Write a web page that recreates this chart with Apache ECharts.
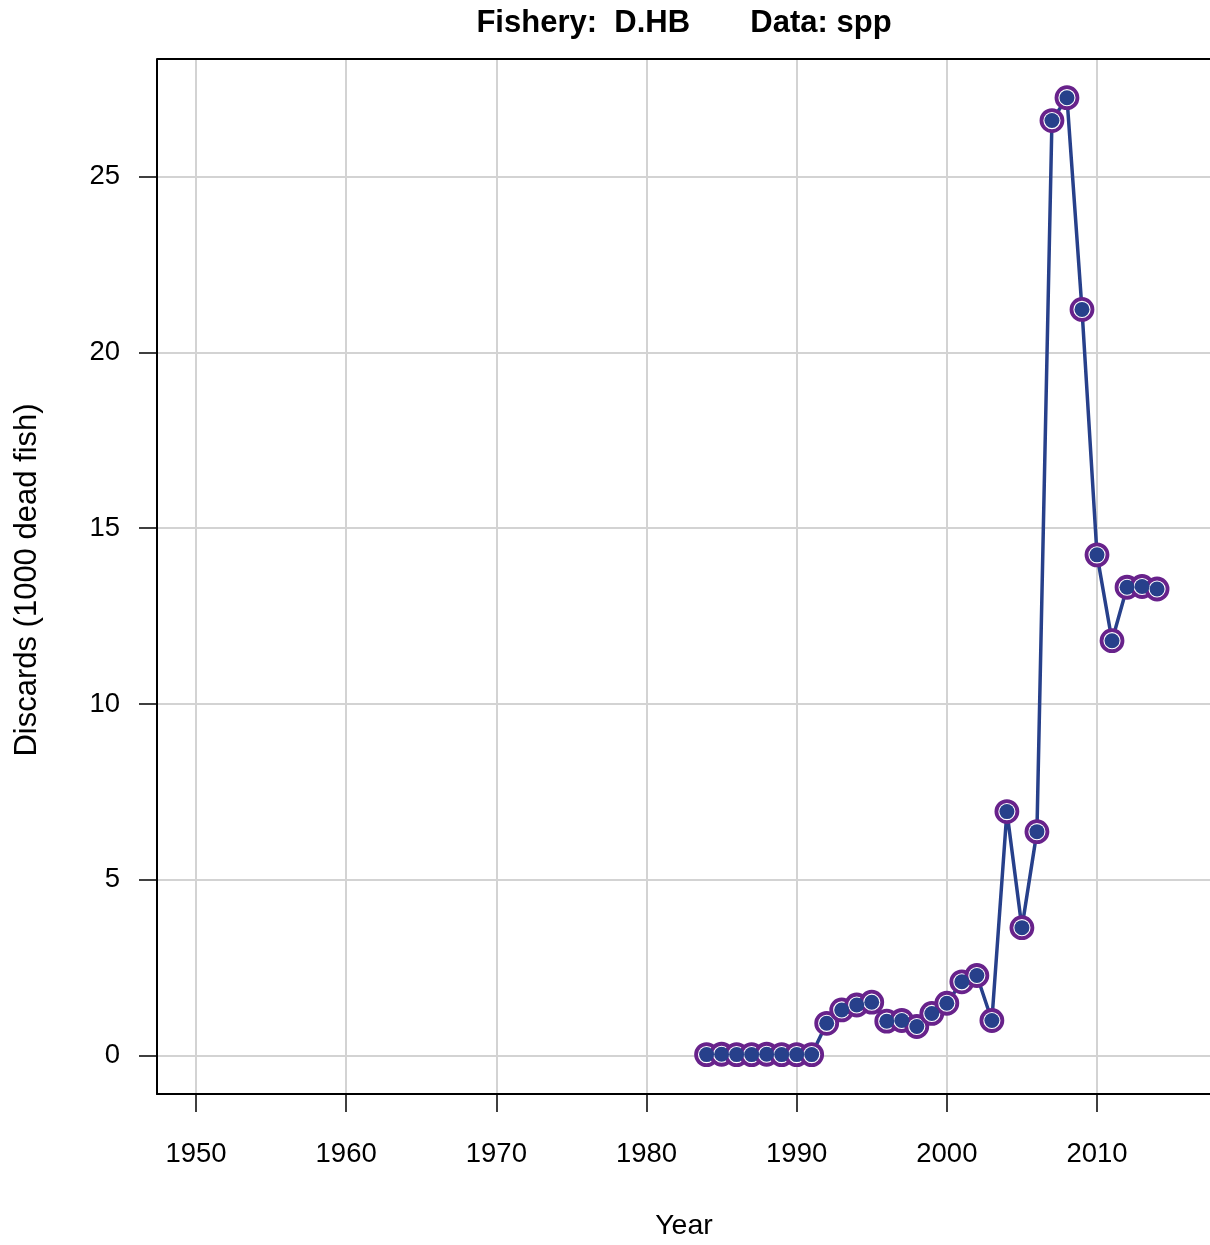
<!DOCTYPE html>
<html><head><meta charset="utf-8">
<script src="https://cdn.jsdelivr.net/npm/echarts@6/dist/echarts.min.js"></script>
<style>html,body{margin:0;padding:0;background:#fff}#c{width:1210px;height:1245px}</style>
</head><body><div id="c"></div>
<script>
const years = [1984,1985,1986,1987,1988,1989,1990,1991,1992,1993,1994,1995,1996,1997,1998,1999,2000,2001,2002,2003,2004,2005,2006,2007,2008,2009,2010,2011,2012,2013,2014];
const discards = [0.03,0.04,0.03,0.03,0.04,0.03,0.03,0.03,0.92,1.30,1.44,1.52,0.98,1.00,0.83,1.20,1.49,2.10,2.28,1.00,6.94,3.64,6.37,26.59,27.24,21.22,14.24,11.80,13.32,13.34,13.27];
const xTicks = [1950,1960,1970,1980,1990,2000,2010];
const yTicks = [0,5,10,15,20,25];
const titleText = 'Fishery:  D.HB       Data: spp';
const xTitle = 'Year';
const yTitle = 'Discards (1000 dead fish)';

const pts = years.map((y,i)=>[y,discards[i]]);
const font = '"Liberation Sans", Arial, sans-serif';
const chart = echarts.init(document.getElementById('c'), null, {renderer:'canvas'});
chart.setOption({
  animation:false,
  backgroundColor:'#fff',
  grid:{left:157, top:59, right:0, bottom:151, show:false},
  xAxis:{type:'value', min:1947.403, max:2017.525,
    axisLine:{show:true, onZero:false, lineStyle:{color:'#000', width:2}},
    axisTick:{show:true, length:18, customValues:xTicks, lineStyle:{color:'#000',width:1.5}},
    axisLabel:{customValues:xTicks, margin:46, fontSize:27.5, color:'#000', fontFamily:font, formatter:v=>String(v)},
    splitLine:{show:true, lineStyle:{color:'#d3d3d3', width:2}}},
  yAxis:{type:'value', min:-1.09, max:28.34,
    axisLine:{show:true, onZero:false, lineStyle:{color:'#000', width:2}},
    axisTick:{show:true, length:18, customValues:yTicks, lineStyle:{color:'#000',width:1.5}},
    axisLabel:{customValues:yTicks, margin:37, fontSize:27.5, color:'#000', fontFamily:font, formatter:v=>String(v)},
    splitLine:{show:true, lineStyle:{color:'#d3d3d3', width:2}}},
  graphic:[
    {type:'line', shape:{x1:157, y1:59, x2:1212, y2:59}, style:{stroke:'#000', lineWidth:2}, z:10},
    {type:'text', style:{text:titleText, font:'bold 31px '+font, fill:'#000', textAlign:'center', textVerticalAlign:'middle'}, x:684, y:23},
    {type:'text', style:{text:xTitle, font:'28.5px '+font, fill:'#000', textAlign:'center', textVerticalAlign:'middle'}, x:684, y:1226},
    {type:'text', style:{text:yTitle, font:'31px '+font, fill:'#000', textAlign:'center', textVerticalAlign:'middle'}, x:27, y:580, rotation:Math.PI/2}
  ],
  series:[
    {type:'line', data:pts, symbol:'circle', symbolSize:21, showSymbol:true, z:2,
      lineStyle:{color:'#27408b', width:3.5},
      itemStyle:{color:'#ffffff', borderColor:'#68228b', borderWidth:3.8}},
    {type:'scatter', data:pts, symbol:'circle', symbolSize:15, z:3,
      itemStyle:{color:'#27408b', opacity:1}}
  ]
});
</script></body></html>
